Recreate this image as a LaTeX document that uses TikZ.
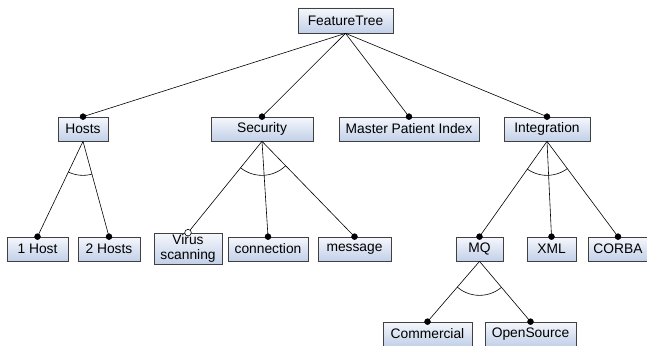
\documentclass[tikz,border=0pt]{standalone}
\usepackage{fontspec}
\setmainfont{Liberation Sans}
\definecolor{boxtop}{HTML}{F5F7FC}
\definecolor{boxbottom}{HTML}{C2D0E8}
\definecolor{boxline}{HTML}{404040}
\tikzset{
  feat/.style={draw=boxline, line width=0.7pt, top color=boxtop, bottom color=boxbottom,
    inner sep=0pt, minimum height=24pt, font=\fontsize{13.8}{15.5}\selectfont, align=center},
  edge/.style={line width=0.6pt, black},
  mand/.style={fill=black, draw=black},
  opt/.style={fill=white, draw=black, line width=0.6pt},
}
\begin{document}
\begin{tikzpicture}[x=1pt,y=-1pt]
\useasboundingbox (0,0) rectangle (647,345);
% feature boxes
\node[feat, minimum width=95pt, minimum height=25pt] (root) at (345.5,20.5) {FeatureTree};
\node[feat, minimum width=50pt] (hosts) at (83,129) {Hosts};
\node[feat, minimum width=102pt] (sec) at (262,129) {Security};
\node[feat, minimum width=140pt] (mpi) at (409,129) {Master Patient Index};
\node[feat, minimum width=86pt] (integ) at (547,129) {Integration};
\node[feat, minimum width=61pt] (h1) at (37.5,249) {1 Host};
\node[feat, minimum width=62pt] (h2) at (109,249) {2 Hosts};
\node[feat, minimum width=68pt, minimum height=31pt] (virus) at (188,248.5) {Virus\\scanning};
\node[feat, minimum width=80pt] (conn) at (268,249) {connection};
\node[feat, minimum width=73pt] (msg) at (354.5,249) {message};
\node[feat, minimum width=47pt] (mq) at (479.5,249) {MQ};
\node[feat, minimum width=49pt] (xml) at (551.5,249) {XML};
\node[feat, minimum width=60pt] (corba) at (618,249) {CORBA};
\node[feat, minimum width=89pt] (comm) at (427.5,334) {Commercial};
\node[feat, minimum width=91pt] (open) at (530.5,334) {OpenSource};
% connectors
\foreach \p/\c in {root/hosts, root/sec, root/mpi, root/integ,
                   hosts/h1, hosts/h2, sec/virus, sec/conn, sec/msg,
                   integ/mq, integ/xml, integ/corba, mq/comm, mq/open}
  \draw[edge] (\p.south) -- (\c.north);
% group arcs
\foreach \p/\a/\b in {hosts/h1/h2, sec/virus/msg, integ/mq/corba, mq/comm/open}{
  \begin{scope}
    \clip (\p.south) -- (\a.north) -- (\b.north) -- cycle;
    \draw[edge] (\p.south) circle (34pt);
  \end{scope}
}
% mandatory and optional markers
\foreach \c in {hosts, sec, mpi, integ, h1, h2, conn, msg, mq, xml, corba, comm, open}
  \fill[mand] (\c.north) circle (3pt);
\draw[opt] (virus.north) circle (3.3pt);
\end{tikzpicture}
\end{document}
